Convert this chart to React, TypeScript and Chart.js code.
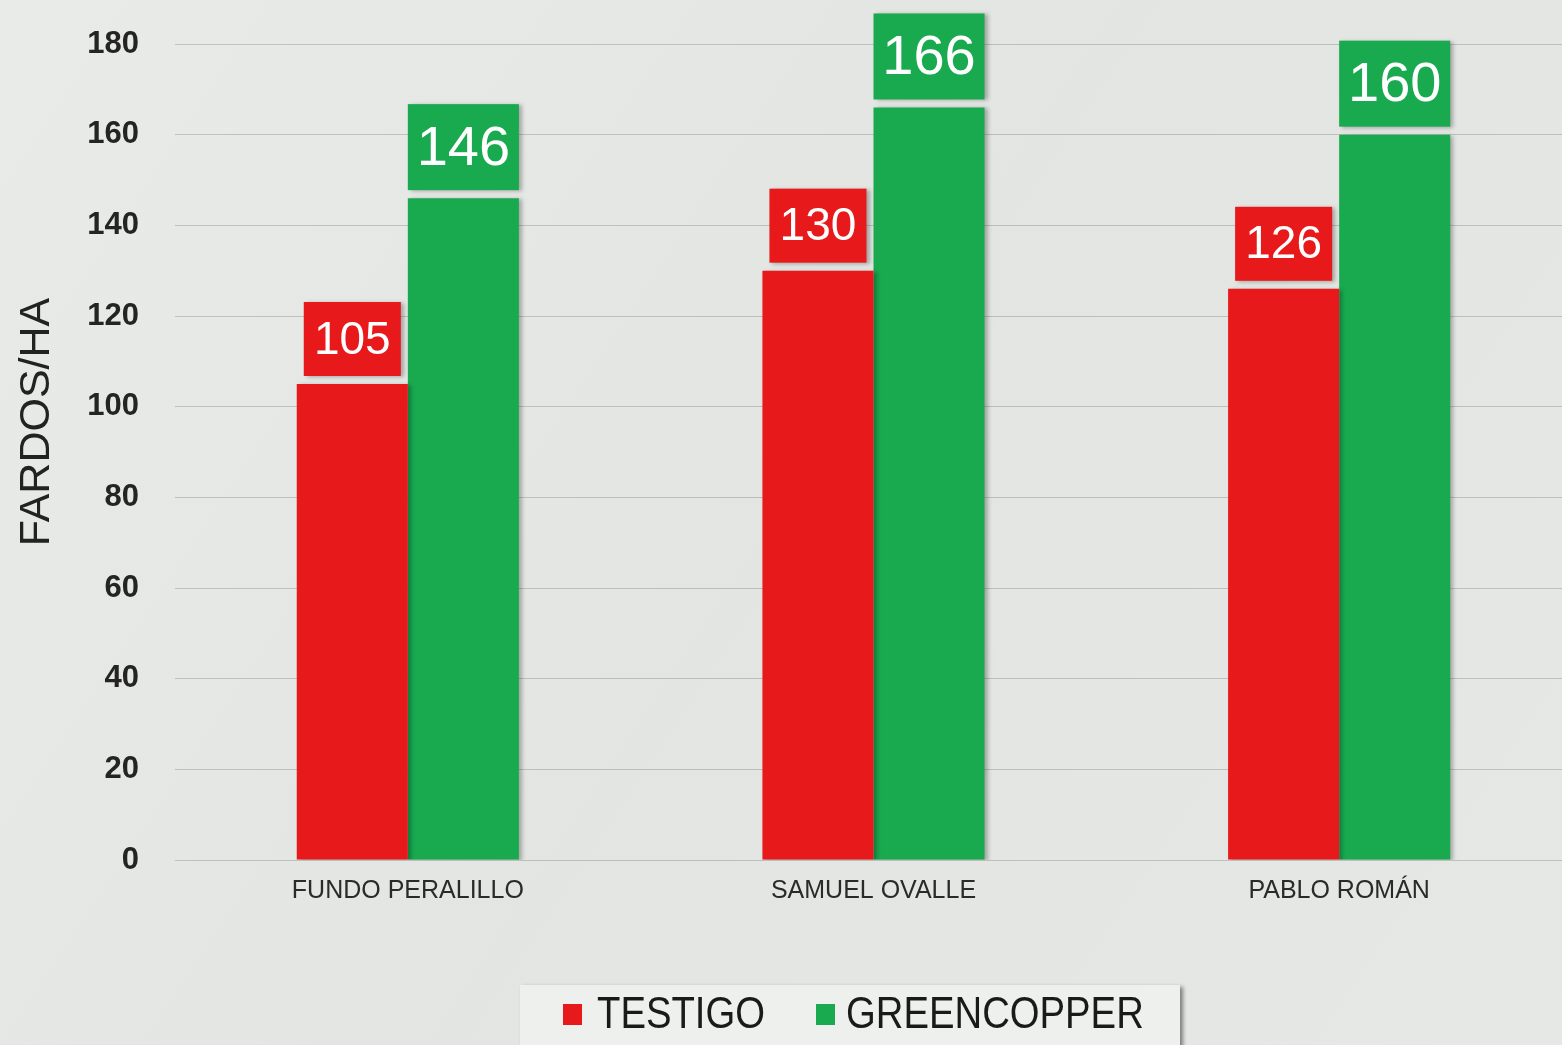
import React, { useEffect, useRef } from "react";
import { Chart, registerables } from "chart.js";

Chart.register(...registerables);

const categories = ["FUNDO PERALILLO", "SAMUEL OVALLE", "PABLO ROMÁN"];
const seriesNames = ["TESTIGO", "GREENCOPPER"];
const testigoValues = [105, 130, 126];
const greencopperValues = [146, 166, 160];
const yMin = 0;
const yMax = 180;
const yStep = 20;
const yTitle = "FARDOS/HA";

const RED = "#e8191b";
const GREEN = "#19aa50";
const W = 1562;
const CW = 1572;
const H = 1045;

const bgPlugin = {
  id: "bg",
  beforeDraw(chart: any) {
    const ctx = chart.ctx;
    ctx.save();
    const g = ctx.createLinearGradient(0, 0, CW, H);
    g.addColorStop(0, "#e9ebe8");
    g.addColorStop(0.5, "#e3e5e2");
    g.addColorStop(1, "#e6e8e5");
    ctx.fillStyle = g;
    ctx.fillRect(0, 0, CW, H);
    ctx.restore();
  },
};

const shadowPlugin = {
  id: "barShadow",
  beforeDatasetsDraw(chart: any) {
    const ctx = chart.ctx;
    ctx.save();
    ctx.shadowColor = "rgba(0,0,0,0.28)";
    ctx.shadowBlur = 4;
    ctx.shadowOffsetX = 3;
    ctx.shadowOffsetY = 1;
  },
  afterDatasetsDraw(chart: any) {
    chart.ctx.restore();
  },
};

const labelPlugin = {
  id: "valueBoxes",
  afterDatasetsDraw(chart: any) {
    const ctx = chart.ctx;
    const styles = [
      { inset: 7, h: 74, font: 46, color: RED },
      { inset: 0, h: 86, font: 56, color: GREEN },
    ];
    chart.data.datasets.forEach((ds: any, di: number) => {
      const meta = chart.getDatasetMeta(di);
      const st = styles[di];
      meta.data.forEach((bar: any, i: number) => {
        const w = bar.width - st.inset * 2;
        const x0 = bar.x - w / 2;
        const y1 = bar.y - 8;
        const y0 = y1 - st.h;
        ctx.save();
        ctx.shadowColor = "rgba(0,0,0,0.28)";
        ctx.shadowBlur = 4;
        ctx.shadowOffsetX = 3;
        ctx.shadowOffsetY = 1;
        ctx.fillStyle = st.color;
        ctx.fillRect(x0, y0, w, st.h);
        ctx.restore();
        ctx.save();
        ctx.fillStyle = "#ffffff";
        ctx.font = `${st.font}px "Liberation Sans", Arial, sans-serif`;
        ctx.textAlign = "center";
        ctx.textBaseline = "middle";
        ctx.fillText(String(ds.data[i]), bar.x, (y0 + y1) / 2 + 2);
        ctx.restore();
      });
    });
  },
};

const decorPlugin = {
  id: "decor",
  afterDraw(chart: any) {
    const ctx = chart.ctx;
    // y title
    ctx.save();
    ctx.translate(37, 422);
    ctx.rotate(-Math.PI / 2);
    ctx.font = `43px "Liberation Sans", Arial, sans-serif`;
    ctx.fillStyle = "#222";
    ctx.textAlign = "center";
    ctx.textBaseline = "middle";
    ctx.fillText(yTitle, 0, 0);
    ctx.restore();

    // legend box
    ctx.save();
    ctx.shadowColor = "rgba(0,0,0,0.45)";
    ctx.shadowBlur = 4;
    ctx.shadowOffsetX = 3;
    ctx.shadowOffsetY = 2;
    ctx.fillStyle = "#eef0ed";
    ctx.fillRect(520, 985, 660, 80);
    ctx.restore();

    const colors = [RED, GREEN];
    const sq = [563, 816];
    const tx = [597, 846];
    const scaleX = 0.87;
    seriesNames.forEach((name, i) => {
      ctx.save();
      ctx.fillStyle = colors[i];
      ctx.fillRect(sq[i], 1004, 19, 21);
      ctx.restore();
      ctx.save();
      ctx.translate(tx[i], 1014);
      ctx.scale(scaleX, 1);
      ctx.font = `44px "Liberation Sans", Arial, sans-serif`;
      ctx.fillStyle = "#1a1a1a";
      ctx.textAlign = "left";
      ctx.textBaseline = "middle";
      ctx.fillText(name, 0, 2);
      ctx.restore();
    });
  },
};

export default function App() {
  const ref = useRef<HTMLCanvasElement | null>(null);

  useEffect(() => {
    if (!ref.current) return;
    const chart = new Chart(ref.current, {
      type: "bar",
      data: {
        labels: categories,
        datasets: [
          {
            label: seriesNames[0],
            data: testigoValues,
            backgroundColor: RED,
            borderWidth: 0,
          },
          {
            label: seriesNames[1],
            data: greencopperValues,
            backgroundColor: GREEN,
            borderWidth: 0,
          },
        ],
      },
      options: {
        animation: false,
        responsive: false,
        devicePixelRatio: 1,
        layout: { padding: { top: 44, left: 0, right: 0, bottom: 0 } },
        datasets: {
          bar: { categoryPercentage: 0.477, barPercentage: 1.0 },
        },
        plugins: {
          legend: { display: false },
          tooltip: { enabled: false },
        },
        scales: {
          x: {
            grid: { display: false, drawTicks: false },
            border: { display: false },
            ticks: {
              color: "#2a2a2a",
              font: { size: 25, family: '"Liberation Sans", Arial, sans-serif' },
              padding: 16,
            },
            afterFit(s: any) {
              s.height = 185;
              s.paddingLeft = 0;
              s.paddingRight = 0;
            },
          },
          y: {
            min: yMin,
            max: yMax,
            grid: { color: "rgba(0,0,0,0.17)", lineWidth: 1, drawTicks: false },
            border: { display: false },
            ticks: {
              stepSize: yStep,
              color: "#242424",
              font: { size: 31, weight: "bold", family: '"Liberation Sans", Arial, sans-serif' },
              padding: 36,
            },
            afterFit(s: any) {
              s.width = 175;
              s.paddingTop = 0;
              s.paddingBottom = 0;
            },
          },
        },
      },
      plugins: [bgPlugin, shadowPlugin, labelPlugin, decorPlugin],
    } as any);
    return () => chart.destroy();
  }, []);

  return (
    <div style={{ position: "fixed", left: 0, top: 0, width: W, height: H, overflow: "hidden" }}>
      <canvas ref={ref} width={CW} height={H} style={{ display: "block" }} />
    </div>
  );
}
